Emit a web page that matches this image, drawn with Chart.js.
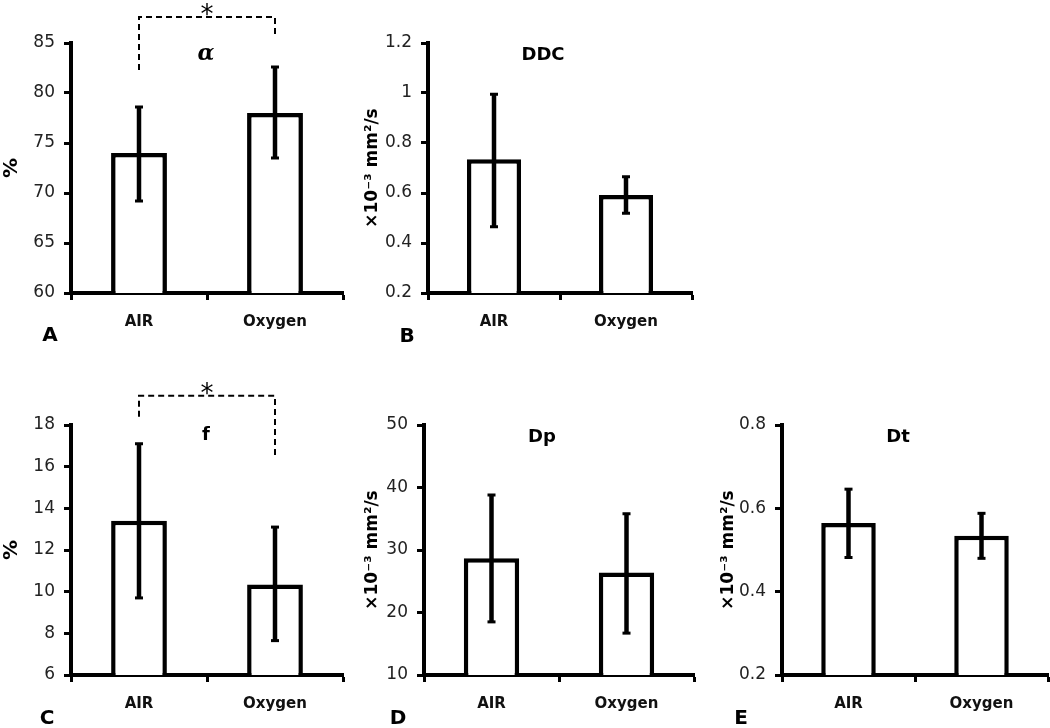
<!DOCTYPE html>
<html>
<head>
<meta charset="utf-8">
<script src="https://cdn.jsdelivr.net/npm/chart.js@4.4.1/dist/chart.umd.min.js"></script>
<style>
  body { margin: 0; background: #fff; }
  #wrap { position: relative; width: 1050px; height: 728px; overflow: hidden; background: #fff; }
  #wrap canvas { position: absolute; }
</style>
</head>
<body>
<div id="wrap">
  <canvas id="panelA" width="360" height="350" style="left:0px;top:0px"></canvas>
  <canvas id="panelB" width="349" height="350" style="left:360px;top:0px"></canvas>
  <canvas id="panelC" width="360" height="364" style="left:0px;top:364px"></canvas>
  <canvas id="panelD" width="352" height="364" style="left:360px;top:364px"></canvas>
  <canvas id="panelE" width="338" height="364" style="left:712px;top:364px"></canvas>
</div>
<script>
const categories = ['AIR', 'Oxygen'];

// A: alpha (%)
const alphaMean = [74.0, 78.0];
const alphaLow = [69.2, 73.5];
const alphaHigh = [78.6, 82.6];
const alphaTicks = ['60', '65', '70', '75', '80', '85'];

// B: DDC
const ddcMean = [0.735, 0.592];
const ddcLow = [0.465, 0.519];
const ddcHigh = [0.995, 0.665];
const ddcTicks = ['0.2', '0.4', '0.6', '0.8', '1', '1.2'];

// C: f (%)
const fMean = [13.4, 10.35];
const fLow = [9.7, 7.65];
const fHigh = [17.1, 13.1];
const fTicks = ['6', '8', '10', '12', '14', '16', '18'];

// D: Dp
const dpMean = [28.7, 26.4];
const dpLow = [18.5, 16.7];
const dpHigh = [38.8, 35.8];
const dpTicks = ['10', '20', '30', '40', '50'];

// E: Dt
const dtMean = [0.565, 0.534];
const dtLow = [0.482, 0.48];
const dtHigh = [0.646, 0.588];
const dtTicks = ['0.2', '0.4', '0.6', '0.8'];

// significance brackets, in axis units: [top, left leg end, right leg end]
const alphaBracket = [87.6, 82.3, 85.6];
const fBracket = [19.4, 18.4, 16.4];

const unitTitle = '×10⁻³ mm²/s';

function buildPanel(o) {
  const deco = {
    id: 'deco',
    afterDatasetsDraw(chart) {
      const ctx = chart.ctx;
      const y = chart.scales.y;
      const bars = chart.getDatasetMeta(0).data;
      ctx.save();
      ctx.strokeStyle = '#000';
      ctx.fillStyle = '#000';
      ctx.lineWidth = 4.5;
      bars.forEach((bar, i) => {
        const yHi = y.getPixelForValue(o.high[i]);
        const yLo = y.getPixelForValue(o.low[i]);
        ctx.beginPath();
        ctx.moveTo(bar.x, yHi);
        ctx.lineTo(bar.x, yLo);
        ctx.stroke();
        ctx.fillRect(bar.x - 4, yHi - 1.5, 8, 3);
        ctx.fillRect(bar.x - 4, yLo - 1.5, 8, 3);
      });
      ctx.restore();
    },
    afterDraw(chart) {
      const ctx = chart.ctx;
      const area = chart.chartArea;
      const y = chart.scales.y;
      const cx = (area.left + area.right) / 2;
      ctx.save();
      ctx.fillStyle = '#000';
      ctx.strokeStyle = '#000';
      ctx.textAlign = 'center';
      ctx.textBaseline = 'middle';

      ctx.font = 'bold 20px "DejaVu Sans"';
      ctx.fillText(o.letter, o.letterX, o.letterY);

      if (o.title) {
        ctx.font = 'bold 18px "DejaVu Sans"';
        ctx.fillText(o.title, cx - 17, area.top + 12);
      }

      if (o.bracket) {
        const xs = chart.getDatasetMeta(0).data.map(b => b.x);
        const yTop = y.getPixelForValue(o.bracket[0]);
        ctx.lineWidth = 2;
        ctx.setLineDash([6, 4]);
        ctx.beginPath();
        ctx.moveTo(xs[0], y.getPixelForValue(o.bracket[1]));
        ctx.lineTo(xs[0], yTop);
        ctx.lineTo(xs[1], yTop);
        ctx.lineTo(xs[1], y.getPixelForValue(o.bracket[2]));
        ctx.stroke();
        ctx.setLineDash([]);
        ctx.textBaseline = 'alphabetic';
        ctx.font = '26px "DejaVu Sans"';
        ctx.fillText('*', (xs[0] + xs[1]) / 2, yTop + 6);
        ctx.textBaseline = 'middle';
        ctx.font = o.markFont;
        ctx.fillText(o.mark, cx - 1, area.top + o.markDy);
      }
      ctx.restore();
    }
  };

  const axisGrid = {
    drawOnChartArea: false,
    drawTicks: true,
    tickLength: 7,
    tickColor: '#000',
    tickWidth: 3
  };

  return new Chart(document.getElementById(o.id), {
    type: 'bar',
    data: {
      labels: categories,
      datasets: [{
        data: o.mean,
        backgroundColor: '#fff',
        borderColor: '#000',
        borderWidth: 4.5,
        barPercentage: 0.41,
        categoryPercentage: 1
      }]
    },
    options: {
      responsive: false,
      animation: false,
      layout: { padding: o.pad },
      plugins: {
        legend: { display: false },
        tooltip: { enabled: false },
        title: { display: false }
      },
      scales: {
        x: {
          z: 1,
          border: { color: '#000', width: 4 },
          grid: Object.assign({ offset: true }, axisGrid),
          ticks: {
            color: '#111',
            font: { family: 'DejaVu Sans', weight: 'bold', size: 15 },
            padding: 13
          },
          afterFit(s) { s.height = 40; }
        },
        y: {
          z: 1,
          min: o.min,
          max: o.max,
          border: { color: '#000', width: 4 },
          grid: axisGrid,
          ticks: {
            stepSize: o.step,
            color: '#222',
            font: { family: 'DejaVu Sans', size: 17 },
            padding: 9,
            callback: (v, i) => o.ticks[i]
          },
          title: {
            display: true,
            text: o.yTitle,
            color: '#000',
            font: { family: 'DejaVu Sans', weight: 'bold', size: o.yTitleSize },
            padding: 0
          },
          afterFit(s) { s.width = o.yWidth; }
        }
      }
    },
    plugins: [deco]
  });
}

buildPanel({
  id: 'panelA', mean: alphaMean, low: alphaLow, high: alphaHigh, ticks: alphaTicks,
  min: 60, max: 85, step: 5, yTitle: '%', yTitleSize: 20, yWidth: 71,
  pad: { left: 0, right: 17, top: 43, bottom: 17 },
  letter: 'A', letterX: 50, letterY: 336,
  bracket: alphaBracket, mark: 'α', markFont: 'bold italic 22px "DejaVu Serif"', markDy: 11
});

buildPanel({
  id: 'panelB', mean: ddcMean, low: ddcLow, high: ddcHigh, ticks: ddcTicks,
  min: 0.2, max: 1.2, step: 0.2, yTitle: unitTitle, yTitleSize: 17, yWidth: 66,
  pad: { left: 2, right: 17, top: 43, bottom: 17 },
  letter: 'B', letterX: 47, letterY: 337, title: 'DDC'
});

buildPanel({
  id: 'panelC', mean: fMean, low: fLow, high: fHigh, ticks: fTicks,
  min: 6, max: 18, step: 2, yTitle: '%', yTitleSize: 20, yWidth: 71,
  pad: { left: 0, right: 17, top: 61, bottom: 13 },
  letter: 'C', letterX: 47, letterY: 355,
  bracket: fBracket, mark: 'f', markFont: 'bold 18px "DejaVu Sans"', markDy: 10
});

buildPanel({
  id: 'panelD', mean: dpMean, low: dpLow, high: dpHigh, ticks: dpTicks,
  min: 10, max: 50, step: 10, yTitle: unitTitle, yTitleSize: 17, yWidth: 62,
  pad: { left: 2, right: 18, top: 61, bottom: 13 },
  letter: 'D', letterX: 38, letterY: 355, title: 'Dp'
});

buildPanel({
  id: 'panelE', mean: dtMean, low: dtLow, high: dtHigh, ticks: dtTicks,
  min: 0.2, max: 0.8, step: 0.2, yTitle: unitTitle, yTitleSize: 17, yWidth: 64,
  pad: { left: 6, right: 2, top: 61, bottom: 13 },
  letter: 'E', letterX: 29, letterY: 355, title: 'Dt'
});
</script>
</body>
</html>
